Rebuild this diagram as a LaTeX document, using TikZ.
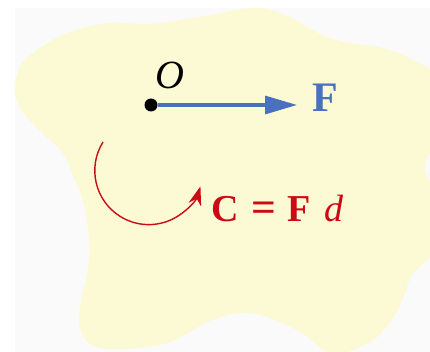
\documentclass[tikz,border=0pt]{standalone}
\usepackage{fontspec}
\setmainfont{Liberation Serif}
\usetikzlibrary{arrows.meta}
\definecolor{bodyfill}{RGB}{252,250,212}
\definecolor{paper}{RGB}{250,250,250}
\definecolor{forceblue}{RGB}{74,112,192}
\definecolor{momentred}{RGB}{204,10,20}

\begin{document}
\begin{tikzpicture}[x=1pt,y=-1pt,
force/.style={draw=forceblue, line width=3.2pt, -{Triangle[length=32pt,width=18pt]}},
couple/.style={draw=momentred, line width=1.4pt, -{Stealth[length=19pt,width=13pt]}},
symtext/.style={inner sep=0pt, font=\fontsize{40}{40}\selectfont}
]
\useasboundingbox (0,0) rectangle (430,352);
\fill[paper] (15,8) rectangle (430,352);
\begin{scope}
\clip (15,8) rectangle (430,352);
\fill[bodyfill] plot[smooth cycle, tension=0.6] coordinates {
(15,88) (20,67) (33,53) (67,33) (110,23) (150,24) (200,17) (243,9) (267,9)
(290,17) (307,27) (327,37) (350,43) (383,48) (413,60) (436,78) (438,130)
(432,148) (425,168) (432,190) (438,240) (430,257) (412,275) (405,293)
(395,315) (377,337) (353,350) (330,354) (300,332) (267,317) (240,313)
(212,320) (193,330) (167,343) (127,349) (93,346) (80,328) (81,300)
(88,270) (89,240) (84,205) (75,180) (62,152) (40,131) (20,108)};
\end{scope}
\node[circle, fill=black, inner sep=0pt, minimum size=13pt] (O) at (151,105) {};
\node[symtext, anchor=base] (Olabel) at (170,89) {\textit{O}};
\coordinate (Ftip) at (297,105);
\node[symtext, anchor=base, text=forceblue, font=\fontsize{42}{42}\selectfont] (F) at (325,112) {\textbf{F}};
\draw[force] (O) -- (Ftip);
\coordinate (C0) at (103,142);
\draw[couple] (C0) arc[start angle=-148, end angle=-343, radius=54];
\node[symtext, anchor=base west, text=momentred, font=\fontsize{38}{38}\selectfont] (M) at (211,222)
  {\textbf{C}\hspace{0.34em}\scalebox{1.15}[1.1]{\textbf{=}}\hspace{0.3em}\textbf{F}\hspace{0.36em}\textit{d}};
\end{tikzpicture}
\end{document}
